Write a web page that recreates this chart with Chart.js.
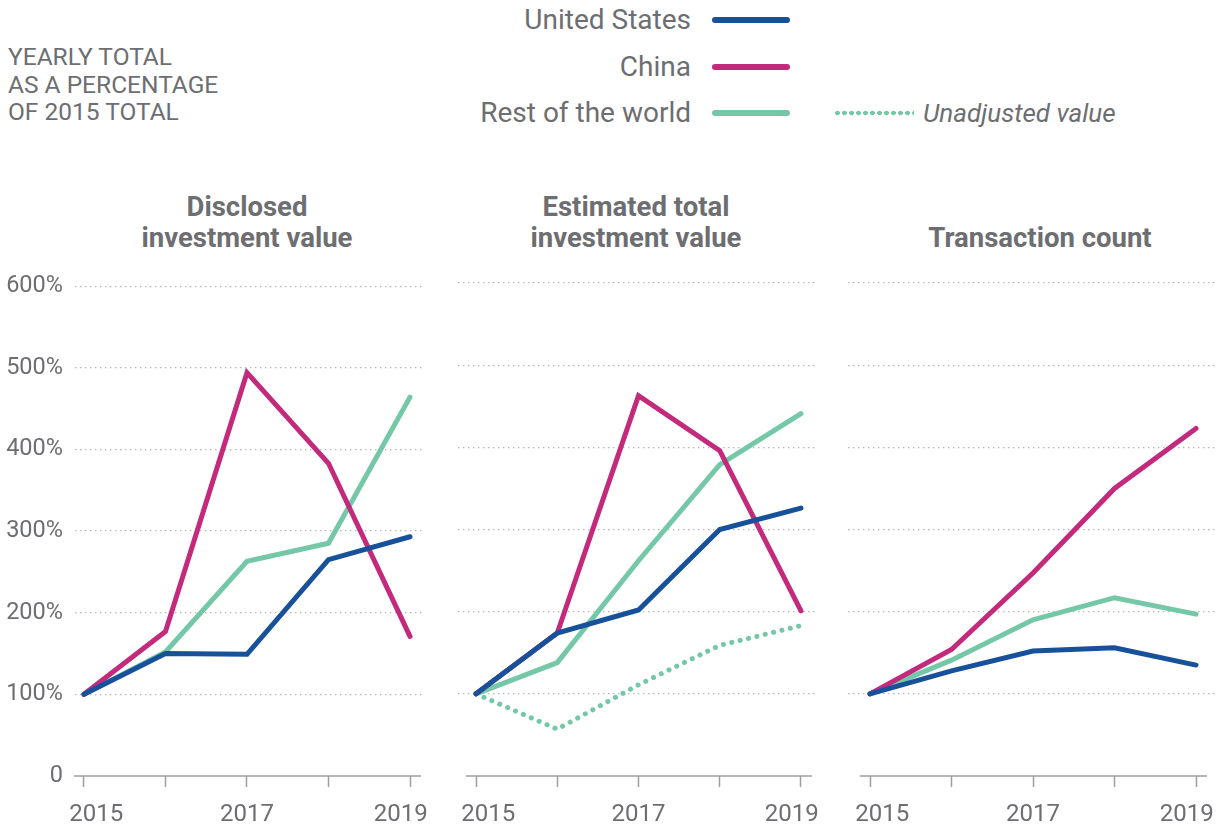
<!DOCTYPE html>
<html>
<head>
<meta charset="utf-8">
<script src="https://cdn.jsdelivr.net/npm/chart.js@4/dist/chart.umd.min.js"></script>
<style>
  html, body { margin: 0; padding: 0; background: #fff; }
  #page { position: relative; width: 1220px; height: 828px; overflow: hidden; font-family: Roboto, sans-serif; color: #6d6e71; }
  .txt { position: absolute; white-space: nowrap; }
  .note { left: 8px; font-size: 24.5px; line-height: 27.5px; top: 43px; }
  .leg { font-size: 28px; line-height: 34px; text-align: right; width: 300px; left: 391px; }
  .swatch { position: absolute; left: 712px; width: 78px; height: 6px; border-radius: 3px; }
  .title { font-size: 27.5px; font-weight: 700; line-height: 31px; text-align: center; width: 300px; }
  canvas { position: absolute; }
</style>
</head>
<body>
<div id="page">
  <div class="txt note">YEARLY TOTAL<br>AS A PERCENTAGE<br>OF 2015 TOTAL</div>

  <div class="txt leg" style="top:3px">United States</div>
  <div class="swatch" style="top:17px;background:#17519a"></div>
  <div class="txt leg" style="top:50px">China</div>
  <div class="swatch" style="top:64px;background:#c42a7c"></div>
  <div class="txt leg" style="top:96px">Rest of the world</div>
  <div class="swatch" style="top:110px;background:#74c8a8"></div>
  <div style="position:absolute;left:834px;top:110px;width:80px;height:6px;background:radial-gradient(circle, #74c8a8 2.1px, transparent 2.6px) repeat-x;background-size:7px 6px;"></div>
  <div class="txt" style="left:923px;top:97px;font-size:26px;line-height:32px;font-style:italic">Unadjusted value</div>

  <div class="txt title" style="left:97px;top:191px">Disclosed<br>investment value</div>
  <div class="txt title" style="left:486px;top:191px">Estimated total<br>investment value</div>
  <div class="txt title" style="left:890px;top:222px">Transaction count</div>

  <canvas id="c1" width="440" height="568" style="left:0;top:260px;width:440px;height:568px"></canvas>
  <canvas id="c2" width="390" height="568" style="left:440px;top:260px;width:390px;height:568px"></canvas>
  <canvas id="c3" width="390" height="568" style="left:830px;top:260px;width:390px;height:568px"></canvas>
</div>
<script>
// data (percent of the 2015 total)
const years = [2015, 2016, 2017, 2018, 2019];
const xLabels = [2015, 2017, 2019];
const yTicks = [0, 100, 200, 300, 400, 500, 600];

const disclosedUS = [100, 150, 149, 265, 293];
const disclosedChina = [100, 177, 494, 383, 171];
const disclosedRow = [100, 152, 263, 285, 464];

const estimatedUS = [100, 174, 202, 300, 326];
const estimatedChina = [100, 174, 463, 396, 201];
const estimatedRow = [100, 138, 262, 379, 441];
const estimatedRowUnadj = [100, 57, 111, 159, 183];

const countUS = [100, 128, 152, 156, 135];
const countChina = [100, 154, 247, 350, 423];
const countRow = [100, 141, 190, 217, 197];

const BLUE = '#17519a', PINK = '#c42a7c', GREEN = '#74c8a8', GREY = '#6d6e71';

Chart.defaults.font.family = 'Roboto, sans-serif';
Chart.defaults.color = GREY;

function toPoints(vals) {
    return vals.map((v, i) => ({ x: years[i], y: v }));
}

function line(vals, color, dotted) {
    return {
        data: toPoints(vals),
        borderColor: color,
        borderWidth: 5,
        borderDash: dotted ? [0.1, 8.5] : [],
        borderCapStyle: 'round',
        pointRadius: 0,
        fill: false,
        tension: 0
    };
}

// first and last year labels sit a little inside the axis ends
function yearLabel(v) {
    if (!xLabels.includes(v)) return '';
    if (v === years[0]) return '\u2002\u2002' + v;
    if (v === years[years.length - 1]) return v + '\u2002\u2005';
    return String(v);
}

// bottom axis line, a bit wider than first/last year
const axisLine = {
    id: 'axisLine',
    afterDraw(chart) {
        const xs = chart.scales.x, ys = chart.scales.y, ctx = chart.ctx;
        const y = ys.getPixelForValue(0);
        ctx.save();
        ctx.strokeStyle = '#9d9ea0';
        ctx.lineWidth = 1.5;
        ctx.beginPath();
        ctx.moveTo(xs.getPixelForValue(2015 - 0.125), y);
        ctx.lineTo(xs.getPixelForValue(2019 + 0.135), y);
        ctx.stroke();
        ctx.restore();
    }
};

function makeChart(id, datasets, o) {
    const ctx = document.getElementById(id).getContext('2d');
    return new Chart(ctx, {
        type: 'line',
        data: { datasets: datasets },
        plugins: [axisLine],
        options: {
            responsive: false,
            animation: false,
            layout: { autoPadding: false, padding: { top: 23, left: o.padLeft, right: o.padRight, bottom: 0 } },
            plugins: { legend: { display: false }, tooltip: { enabled: false } },
            scales: {
                x: {
                    type: 'linear',
                    min: o.xMin,
                    max: o.xMax,
                    afterBuildTicks: s => { s.ticks = years.map(v => ({ value: v })); },
                    afterFit: s => { s.height = 52; s.paddingLeft = 0; s.paddingRight = 0; },
                    grid: { drawOnChartArea: false, drawTicks: true, tickLength: 11, tickColor: '#9d9ea0', tickWidth: 1.5 },
                    border: { display: false },
                    ticks: {
                        autoSkip: false, maxRotation: 0, padding: 14,
                        font: { size: 24 }, color: GREY,
                        callback: yearLabel
                    }
                },
                y: {
                    min: 0,
                    max: 600,
                    afterBuildTicks: s => { s.ticks = yTicks.map(v => ({ value: v })); },
                    afterFit: s => { s.width = o.yWidth; },
                    grid: {
                        drawTicks: false,
                        color: c => c.tick && c.tick.value === 0 ? 'rgba(0,0,0,0)' : '#b4b5b7',
                        lineWidth: 1.2
                    },
                    border: { display: false, dash: [1.4, 3.6] },
                    ticks: {
                        display: o.showY,
                        padding: 12,
                        font: { size: 23.5 }, color: GREY,
                        callback: v => v === 0 ? '0' : v + '%'
                    }
                }
            }
        }
    });
}

makeChart('c1', [
    line(disclosedUS, BLUE),
    line(disclosedChina, PINK),
    line(disclosedRow, GREEN)
], { padLeft: 0, padRight: 15, yWidth: 75, showY: true, xMin: 2014.89, xMax: 2019.184 });

makeChart('c2', [
    line(estimatedUS, BLUE),
    line(estimatedChina, PINK),
    line(estimatedRow, GREEN),
    line(estimatedRowUnadj, GREEN, true)
], { padLeft: 18, padRight: 14, yWidth: 0, showY: false, xMin: 2014.778, xMax: 2019.185 });

makeChart('c3', [
    line(countUS, BLUE),
    line(countChina, PINK),
    line(countRow, GREEN)
], { padLeft: 18, padRight: 5, yWidth: 0, showY: false, xMin: 2014.73, xMax: 2019.233 });
</script>
</body>
</html>
